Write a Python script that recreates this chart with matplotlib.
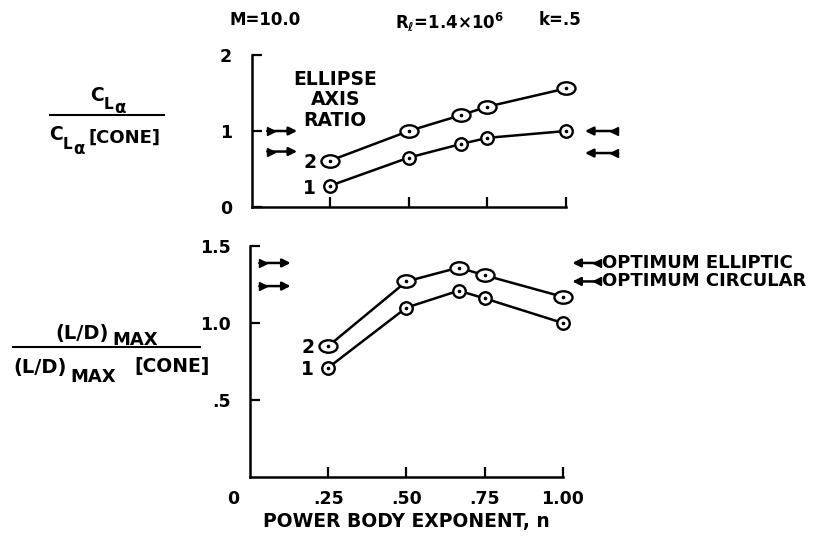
import matplotlib
matplotlib.use("Agg")
import matplotlib.pyplot as plt
from matplotlib.path import Path
from matplotlib.lines import Line2D
import matplotlib.transforms as mtransforms

plt.rcParams['font.family'] = ['DejaVu Sans']
plt.rcParams['font.weight'] = 'bold'
plt.rcParams['mathtext.fontset'] = 'dejavusans'
plt.rcParams['mathtext.default'] = 'bf'

# power body exponent n
n_vals = [0.25, 0.50, 0.667, 0.75, 1.00]

# lift curve slope ratio, ellipse axis ratio 1 and 2
cla_ratio1 = [0.28, 0.65, 0.83, 0.91, 1.00]
cla_ratio2 = [0.61, 1.00, 1.21, 1.32, 1.56]

# (L/D)max ratio, ellipse axis ratio 1 and 2
ld_ratio1 = [0.71, 1.10, 1.21, 1.16, 1.00]
ld_ratio2 = [0.85, 1.27, 1.36, 1.31, 1.17]

# reference arrows (levels)
cla_left_arrows = [1.00, 0.73]
cla_right_arrows = [1.00, 0.71]
ld_left_arrows = [1.39, 1.24]
ld_right_arrows = [1.39, 1.27]
ld_right_labels = ['OPTIMUM ELLIPTIC', 'OPTIMUM CIRCULAR']

top_yticks = [0, 1, 2]
top_yticklabels = ['0', '1', '2']
bot_yticks = [0.5, 1.0, 1.5]
bot_yticklabels = ['.5', '1.0', '1.5']
xticks = [0.25, 0.50, 0.75, 1.00]
xticklabels = ['.25', '.50', '.75', '1.00']

FS = 13.5
TFS = 12.5
ell = Path.unit_circle().transformed(mtransforms.Affine2D().scale(1.45, 1.0))

fig = plt.figure(figsize=(8.15, 5.36), dpi=100)
ax1 = fig.add_axes([0.3086, 0.6138, 0.386, 0.2836])
ax2 = fig.add_axes([0.3067, 0.110, 0.384, 0.431])


def style_axis(ax, ylim, yticks, yticklabels, show_xlabels):
    ax.set_xlim(0, 1.0)
    ax.set_ylim(*ylim)
    for s in ['top', 'right']:
        ax.spines[s].set_visible(False)
    for s in ['left', 'bottom']:
        ax.spines[s].set_linewidth(1.8)
    ax.set_yticks(yticks)
    ax.set_yticklabels(yticklabels, fontsize=TFS, fontweight='bold')
    ax.set_xticks(xticks)
    if show_xlabels:
        ax.set_xticklabels(xticklabels, fontsize=TFS, fontweight='bold')
    else:
        ax.set_xticklabels([])
    ax.tick_params(direction='in', length=7, width=1.6, pad=9)
    ax.tick_params(axis='y', pad=14)


def draw_series(ax, y1, y2):
    ax.plot(n_vals, y1, color='black', lw=1.8, marker='o', ms=9,
            mfc='white', mec='black', mew=1.7, zorder=3, clip_on=False)
    ax.plot(n_vals, y2, color='black', lw=1.8, marker=ell, ms=13,
            mfc='white', mec='black', mew=1.7, zorder=3, clip_on=False)
    ax.plot(n_vals, y1, ls='none', marker='o', ms=1.6, color='black', zorder=4, clip_on=False)
    ax.plot(n_vals, y2, ls='none', marker='o', ms=1.6, color='black', zorder=4, clip_on=False)


def arrow(ax, x0, x1, y):
    ax.annotate('', xy=(x1, y), xytext=(x0, y), annotation_clip=False,
                arrowprops=dict(arrowstyle='-|>', color='black', lw=1.8,
                                mutation_scale=12, shrinkA=0, shrinkB=0))
    d = 1 if x1 > x0 else -1
    ax.plot([x0 + d * 0.012], [y], marker='>' if d > 0 else '<', ms=6,
            color='black', clip_on=False)


def piece(x_px, y_px, s, size, ha='left'):
    # text fragment at a figure pixel position (from top-left), baseline aligned
    return fig.text(x_px / 815, 1 - y_px / 536, s, ha=ha, va='baseline',
                    fontsize=size, fontweight='bold')


style_axis(ax1, (0, 2), top_yticks, top_yticklabels, False)
draw_series(ax1, cla_ratio1, cla_ratio2)
style_axis(ax2, (0, 1.5), bot_yticks, bot_yticklabels, True)
draw_series(ax2, ld_ratio1, ld_ratio2)
ax2.text(-0.055, -0.055, '0', transform=ax2.get_xaxis_transform(), ha='center',
         va='top', fontsize=TFS, fontweight='bold')
ax2.set_xlabel('POWER BODY EXPONENT, n', fontsize=FS, fontweight='bold', labelpad=3)

for y in cla_left_arrows:
    arrow(ax1, 0.05, 0.145, y)
for y in cla_right_arrows:
    arrow(ax1, 1.165, 1.06, y)
for y in ld_left_arrows:
    arrow(ax2, 0.03, 0.13, y)
for y, lab in zip(ld_right_arrows, ld_right_labels):
    arrow(ax2, 1.12, 1.03, y)
    ax2.text(1.125, y, lab, ha='left', va='center', fontsize=FS - 0.5, fontweight='bold',
             clip_on=False)

# curve labels
ax1.text(0.266, 1.41, 'ELLIPSE\nAXIS\nRATIO', ha='center', va='center',
         fontsize=FS, fontweight='bold', linespacing=1.12)
ax1.text(0.185, cla_ratio2[0] - 0.03, '2', ha='center', va='center', fontsize=FS, fontweight='bold')
ax1.text(0.185, cla_ratio1[0] - 0.03, '1', ha='center', va='center', fontsize=FS, fontweight='bold')
ax2.text(0.185, ld_ratio2[0] - 0.01, '2', ha='center', va='center', fontsize=FS, fontweight='bold')
ax2.text(0.185, ld_ratio1[0] - 0.01, '1', ha='center', va='center', fontsize=FS, fontweight='bold')

# header
fig.text(265 / 815, 1 - 20 / 536, 'M=10.0', ha='center', va='center', fontsize=FS - 1.5)
fig.text(450 / 815, 1 - 22 / 536, r'R$_{\ell}$=1.4×10$^{6}$', ha='center', va='center', fontsize=FS - 1.5)
fig.text(560 / 815, 1 - 20 / 536, 'k=.5', ha='center', va='center', fontsize=FS - 1.5)

# left fractions
piece(90, 101, 'C', 13.5)
piece(104, 109, 'L', 11)
piece(114, 113, 'α', 12)
fig.add_artist(Line2D([50 / 815, 164 / 815], [1 - 115 / 536] * 2, color='black', lw=1.5))
piece(49, 140, 'C', 13.5)
piece(63, 149, 'L', 11)
piece(73, 154, 'α', 12)
piece(89, 143, '[CONE]', 13)

piece(55, 339, '(L/D)', 14)
piece(112, 345, 'MAX', 13)
fig.add_artist(Line2D([13 / 815, 200 / 815], [1 - 347 / 536] * 2, color='black', lw=1.5))
piece(13, 373, '(L/D)', 14)
piece(70, 382, 'MAX', 13)
piece(134, 372, '[CONE]', 13.5)

fig.savefig('out.png', dpi=100)
